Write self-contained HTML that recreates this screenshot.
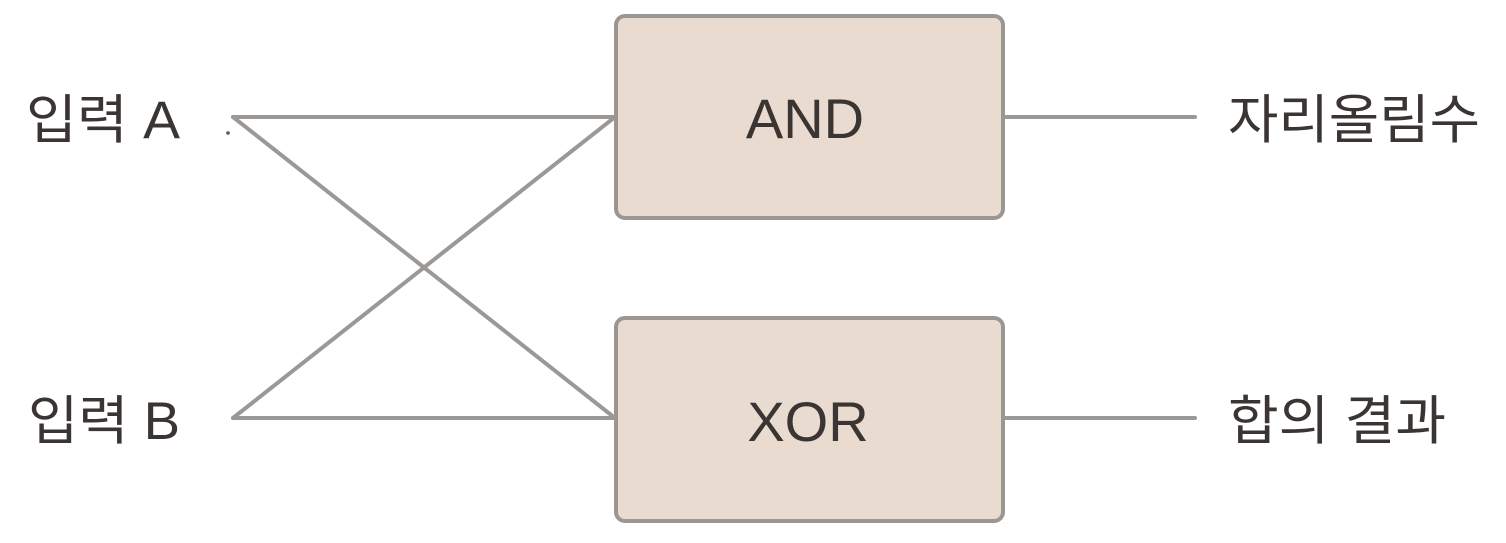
<!DOCTYPE html>
<html><head><meta charset="utf-8"><style>
html,body{margin:0;padding:0;background:#fff;}
body{width:1506px;height:538px;overflow:hidden;}
text{font-family:"Liberation Sans","Noto Sans CJK KR",sans-serif;fill:#3a3533;}
</style></head><body>
<svg width="1506" height="538" viewBox="0 0 1506 538" xmlns="http://www.w3.org/2000/svg">
<g stroke="#9c9896" stroke-width="4" fill="none" stroke-linecap="round">
<line x1="233" y1="117" x2="615" y2="117"/>
<line x1="233" y1="418" x2="615" y2="418"/>
<line x1="233" y1="117" x2="615" y2="418"/>
<line x1="233" y1="418" x2="615" y2="117"/>
<line x1="1003" y1="117" x2="1195" y2="117"/>
<line x1="1003" y1="418" x2="1195" y2="418"/>
</g>
<circle cx="228" cy="133" r="1.8" fill="#555"/>
<rect x="616" y="16" width="387" height="202" rx="9" fill="#e9dbcf" stroke="#9c9692" stroke-width="4"/>
<rect x="616" y="318" width="387" height="203" rx="9" fill="#e9dbcf" stroke="#9c9692" stroke-width="4"/>
<text x="805" y="138" font-size="56" text-anchor="middle">AND</text>
<text x="808" y="441" font-size="56" text-anchor="middle">XOR</text>
<text x="26" y="138" font-size="53" textLength="154" lengthAdjust="spacingAndGlyphs">입력 A</text>
<text x="28" y="439" font-size="53" textLength="152" lengthAdjust="spacingAndGlyphs">입력 B</text>
<text x="1228" y="138" font-size="53" textLength="252" lengthAdjust="spacingAndGlyphs">자리올림수</text>
<text x="1228" y="439" font-size="53" textLength="218" lengthAdjust="spacingAndGlyphs">합의 결과</text>
</svg>
</body></html>
